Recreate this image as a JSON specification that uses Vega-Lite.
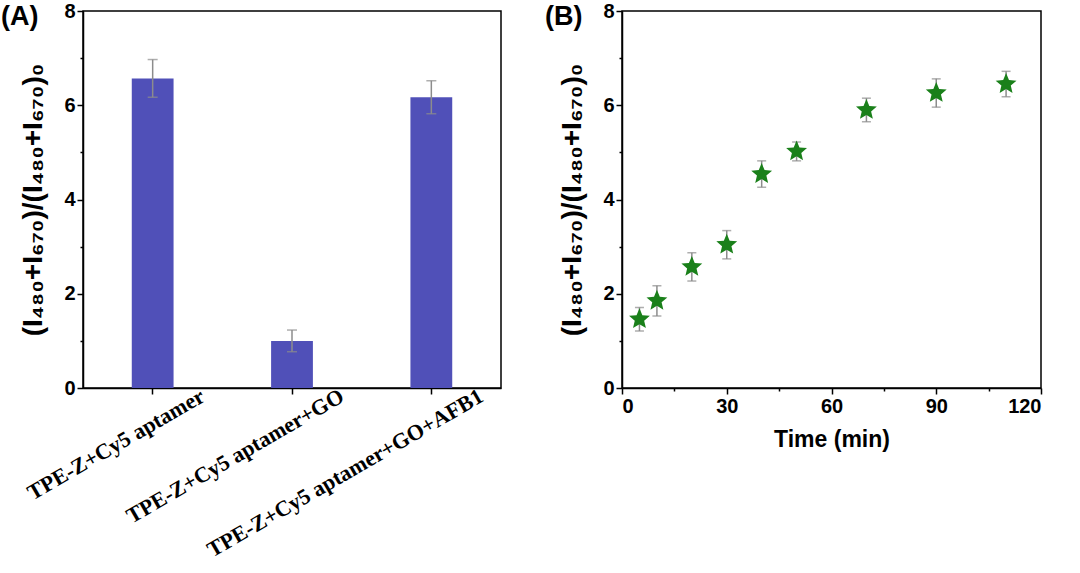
{
  "$schema": "https://vega.github.io/schema/vega-lite/v6.json",
  "background": "white",
  "padding": 0,
  "spacing": 42,
  "config": {
    "view": {"stroke": "black", "strokeWidth": 1.5},
    "axis": {
      "grid": false,
      "domainColor": "black", "domainWidth": 1.5,
      "tickColor": "black", "tickWidth": 1.5,
      "labelFont": "Liberation Sans", "labelFontWeight": "bold", "labelFontSize": 20, "labelColor": "black",
      "titleFont": "Liberation Sans", "titleFontWeight": "bold", "titleFontSize": 28, "titleColor": "black"
    },
    "title": {"font": "Liberation Sans", "fontSize": 27, "fontWeight": "bold", "color": "black", "anchor": "start", "frame": "group"}
  },
  "hconcat": [
    {
      "width": 418,
      "height": 377,
      "title": {"text": "(A)", "dx": -82, "offset": -30},
      "data": {
        "values": [
          {"group": "TPE-Z+Cy5 aptamer", "ratio": 6.57, "err": 0.4},
          {"group": "TPE-Z+Cy5 aptamer+GO", "ratio": 1.0, "err": 0.23},
          {"group": "TPE-Z+Cy5 aptamer+GO+AFB1", "ratio": 6.17, "err": 0.35}
        ]
      },
      "layer": [
        {
          "mark": {"type": "bar", "color": "#5050b8"},
          "encoding": {
            "x": {
              "field": "group", "type": "nominal", "sort": null,
              "scale": {"paddingInner": 0.7, "paddingOuter": 0.35},
              "axis": {
                "title": null, "labelAngle": -30, "labelAlign": "right", "labelBaseline": "middle", "labelLimit": 600,
                "labelFont": "Liberation Serif", "labelFontSize": 22, "labelOffset": 50, "labelPadding": 0, "tickSize": 6
              }
            },
            "y": {
              "field": "ratio", "type": "quantitative",
              "scale": {"domain": [0, 8], "nice": false},
              "axis": {
                "title": "(I₄₈₀+I₆₇₀)/(I₄₈₀+I₆₇₀)₀",
                "values": [0, 1, 2, 3, 4, 5, 6, 7, 8],
                "labelExpr": "datum.value % 2 ? '' : datum.label",
                "tickSize": {"condition": {"test": "datum.value % 2", "value": 3}, "value": 6},
                "titlePadding": 16
              }
            }
          }
        },
        {
          "mark": {"type": "errorbar", "color": "#8c8c8c", "thickness": 1.5, "ticks": {"size": 10, "thickness": 1.5, "color": "#8c8c8c"}},
          "encoding": {
            "x": {"field": "group", "type": "nominal", "sort": null, "title": null},
            "y": {"field": "ratio", "type": "quantitative", "title": "(I₄₈₀+I₆₇₀)/(I₄₈₀+I₆₇₀)₀"},
            "yError": {"field": "err"}
          }
        }
      ]
    },
    {
      "width": 419,
      "height": 377,
      "title": {"text": "(B)", "dx": -77, "offset": -30},
      "data": {
        "values": [
          {"time": 5, "ratio": 1.46, "err": 0.25},
          {"time": 10, "ratio": 1.85, "err": 0.32},
          {"time": 20, "ratio": 2.57, "err": 0.3},
          {"time": 30, "ratio": 3.04, "err": 0.3},
          {"time": 40, "ratio": 4.54, "err": 0.28},
          {"time": 50, "ratio": 5.02, "err": 0.2},
          {"time": 70, "ratio": 5.9, "err": 0.25},
          {"time": 90, "ratio": 6.26, "err": 0.3},
          {"time": 110, "ratio": 6.45, "err": 0.27}
        ]
      },
      "layer": [
        {
          "mark": {"type": "errorbar", "color": "#8c8c8c", "thickness": 1.5, "ticks": {"size": 9, "thickness": 1.5, "color": "#8c8c8c"}},
          "encoding": {
            "x": {
              "field": "time", "type": "quantitative",
              "scale": {"domain": [0, 120], "nice": false},
              "axis": {
                "title": "Time (min)", "titleFontSize": 23, "titlePadding": 12,
                "values": [0, 15, 30, 45, 60, 75, 90, 105, 120],
                "labelExpr": "datum.value % 30 ? '' : datum.label",
                "tickSize": {"condition": {"test": "datum.value % 30", "value": 3}, "value": 6}
              }
            },
            "y": {
              "field": "ratio", "type": "quantitative",
              "scale": {"domain": [0, 8], "nice": false},
              "axis": {
                "title": "(I₄₈₀+I₆₇₀)/(I₄₈₀+I₆₇₀)₀",
                "values": [0, 1, 2, 3, 4, 5, 6, 7, 8],
                "labelExpr": "datum.value % 2 ? '' : datum.label",
                "tickSize": {"condition": {"test": "datum.value % 2", "value": 3}, "value": 6},
                "titlePadding": 16
              }
            },
            "yError": {"field": "err"}
          }
        },
        {
          "mark": {
            "type": "point",
            "shape": "M0,-1L0.265,-0.364L0.951,-0.309L0.428,0.139L0.588,0.809L0,0.45L-0.588,0.809L-0.428,0.139L-0.951,-0.309L-0.265,-0.364Z",
            "filled": true, "color": "#1a801a", "opacity": 1, "size": 480
          },
          "encoding": {
            "x": {"field": "time", "type": "quantitative"},
            "y": {"field": "ratio", "type": "quantitative"}
          }
        }
      ]
    }
  ]
}
